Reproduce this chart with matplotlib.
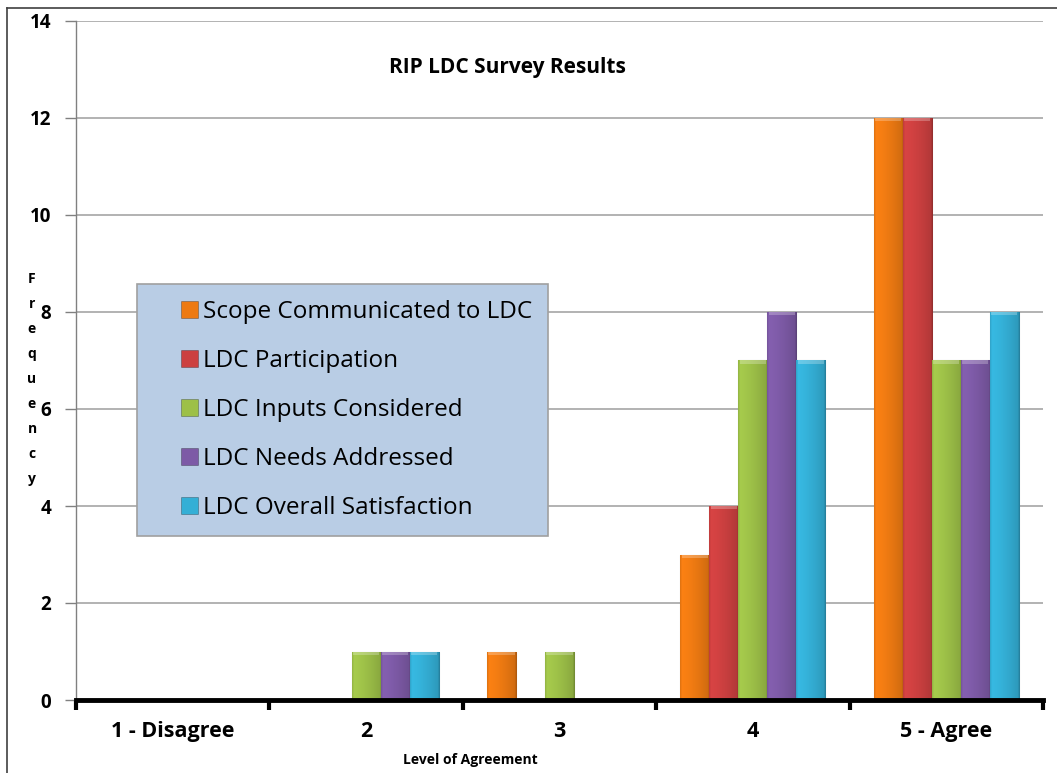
import numpy as np
import matplotlib
matplotlib.use("Agg")
import matplotlib.pyplot as plt
from matplotlib.patches import Patch, Rectangle
from matplotlib.lines import Line2D
import matplotlib.colors as mcolors

plt.rcParams['font.family'] = ['Open Sans', 'DejaVu Sans']

categories = ["1 - Disagree", "2", "3", "4", "5 - Agree"]
series = ["Scope Communicated to LDC", "LDC Participation", "LDC Inputs Considered",
          "LDC Needs Addressed", "LDC Overall Satisfaction"]
scope = [0, 0, 1, 3, 12]
participation = [0, 0, 0, 4, 12]
inputs = [0, 1, 1, 7, 7]
needs = [0, 1, 0, 8, 7]
overall = [0, 1, 0, 7, 8]
values = [scope, participation, inputs, needs, overall]
colors = ["#ee7a12", "#cc4040", "#9dc048", "#7d5aa6", "#34afd6"]

W, H = 1057, 773
fig = plt.figure(figsize=(W / 100, H / 100), dpi=100)
ax = fig.add_axes([76 / W, 1 - 700 / H, 967 / W, 679 / H])

x = np.arange(len(categories))
w = 0.15


def shade(color):
    # horizontal gradient, a bit darker toward the right edge
    rgb = np.array(mcolors.to_rgb(color))
    t = np.linspace(0, 1, 64)
    f = 1.06 - 0.2 * t ** 1.5
    f[:3] *= 0.9
    f[-3:] *= 0.85
    img = np.clip(rgb[None, :] * f[:, None], 0, 1)
    return img[None, :, :]


for i, (vals, c) in enumerate(zip(values, colors)):
    bars = ax.bar(x + (i - 2) * w, vals, w, color=c, edgecolor=mcolors.to_rgba("k", 0.25),
                  linewidth=0.8, zorder=3)
    for b in bars:
        h = b.get_height()
        if h <= 0:
            continue
        x0 = b.get_x()
        im = ax.imshow(shade(c), extent=[x0, x0 + w, 0, h], aspect='auto',
                       interpolation='bilinear', zorder=3.5)
        im.set_clip_path(b)
        # top bevel
        ax.bar(x0 + w / 2, 0.07, w * 0.9, bottom=h - 0.07,
               color=mcolors.to_rgba("white", 0.25), linewidth=0, zorder=4)

ax.set_xlim(-0.5, 4.5)
ax.set_ylim(0, 14)

ax.set_yticks(range(0, 15, 2))
ax.yaxis.grid(True, color="#a6a6a6", linewidth=1.2, zorder=0)
ax.tick_params(axis='y', length=8, width=1, color="#808080", labelsize=13.5, pad=10)
for lab in ax.get_yticklabels():
    lab.set_fontweight('bold')

ax.set_xticks(np.arange(-0.5, 5, 1))
ax.set_xticklabels([])
ax.tick_params(axis='x', which='major', length=7, width=3, color='black')
ax.set_xticks(x, minor=True)
ax.set_xticklabels(categories, minor=True, fontsize=15.5, fontweight='bold')
ax.tick_params(axis='x', which='minor', length=0, pad=15)

ax.spines['top'].set_visible(False)
ax.spines['right'].set_visible(False)
ax.spines['left'].set_color("#808080")
ax.spines['left'].set_linewidth(1)
ax.spines['bottom'].set_color('black')
ax.spines['bottom'].set_linewidth(3.5)
ax.spines['bottom'].set_zorder(5)

fig.text(507 / W, 1 - 67 / H, "RIP LDC Survey Results", ha='center', va='center',
         fontsize=15, fontweight='bold')
fig.text(470 / W, 1 - 760 / H, "Level of Agreement", ha='center', va='center',
         fontsize=10, fontweight='bold')
fig.text(32 / W, 1 - 379 / H, "\n".join("Frequency"), ha='center', va='center',
         fontsize=10, fontweight='bold', linespacing=2.0)

# legend box drawn separately so the left padding can match
box = Rectangle((137 / W, 1 - 536 / H), 411 / W, 252 / H, transform=fig.transFigure,
                facecolor="#b9cde5", edgecolor="#a0a0a0", linewidth=1.2, zorder=9,
                clip_on=False)
ax.add_patch(box)
handles = [Patch(facecolor=c, edgecolor=mcolors.to_rgba("k", 0.3), linewidth=0.6) for c in colors]
leg = ax.legend(handles, series, loc='upper left',
                bbox_to_anchor=(181 / W, 1 - 300 / H), bbox_transform=fig.transFigure,
                fontsize=17.5, frameon=False, handlelength=0.7, handleheight=0.7,
                handletextpad=0.2, labelspacing=1.03, borderpad=0, borderaxespad=0)
leg.set_zorder(10)

# outer chart frame (left and top visible)
fig.add_artist(Line2D([7 / W, 7 / W], [0, 1 - 8 / H], color="#404040", linewidth=1.2))
fig.add_artist(Line2D([7 / W, 1], [1 - 8 / H, 1 - 8 / H], color="#404040", linewidth=1.2))

fig.savefig("out.png", dpi=100)
